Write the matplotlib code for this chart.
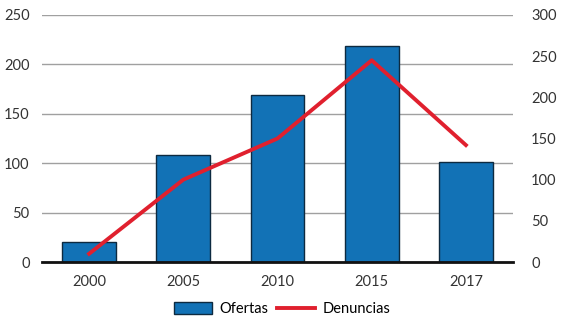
import numpy as np
import matplotlib.pyplot as plt

plt.rcParams['font.family'] = ['Lato', 'DejaVu Sans']

years = ['2000', '2005', '2010', '2015', '2017']
ofertas = [20, 108, 169, 219, 101]
denuncias = [10, 100, 150, 245, 142]

fig = plt.figure(figsize=(5.65, 3.25), dpi=100)
ax = fig.add_axes([42 / 565, 1 - 262 / 325, 471 / 565, 247 / 325])
x = np.arange(len(years))

ax.bar(x, ofertas, width=0.57, color='#1272b6', edgecolor='#0d2a40', linewidth=1.0,
       label='Ofertas', zorder=2)
ax.set_xlim(-0.5, 4.5)
ax.set_ylim(0, 250)
ax.set_yticks(np.arange(0, 251, 50))
ax.set_xticks(x, years)
ax.yaxis.grid(True, color='#a0a0a0', linewidth=1.0)
ax.set_axisbelow(True)
for s in ['top', 'right', 'left']:
    ax.spines[s].set_visible(False)
ax.spines['bottom'].set_linewidth(2.0)
ax.spines['bottom'].set_color('#111111')
ax.tick_params(axis='both', length=0, labelsize=10.5, colors='#333333', pad=9)
ax.tick_params(axis='y', pad=9)

ax2 = ax.twinx()
ax2.plot(x, denuncias, color='#e0202e', linewidth=2.8, label='Denuncias', zorder=3)
ax2.set_ylim(0, 300)
ax2.set_yticks(np.arange(0, 301, 50))
for s in ['top', 'right', 'left', 'bottom']:
    ax2.spines[s].set_visible(False)
ax2.tick_params(axis='y', length=0, labelsize=10.5, colors='#333333', pad=13)

h1, l1 = ax.get_legend_handles_labels()
h2, l2 = ax2.get_legend_handles_labels()
fig.legend(h1 + h2, l1 + l2, loc='center', bbox_to_anchor=(0.5, 1 - 309 / 325), ncol=2,
           frameon=False, fontsize=10.5, handlelength=2.6, handleheight=0.8,
           columnspacing=0.6, handletextpad=0.5)

fig.savefig('out.png', dpi=100)
